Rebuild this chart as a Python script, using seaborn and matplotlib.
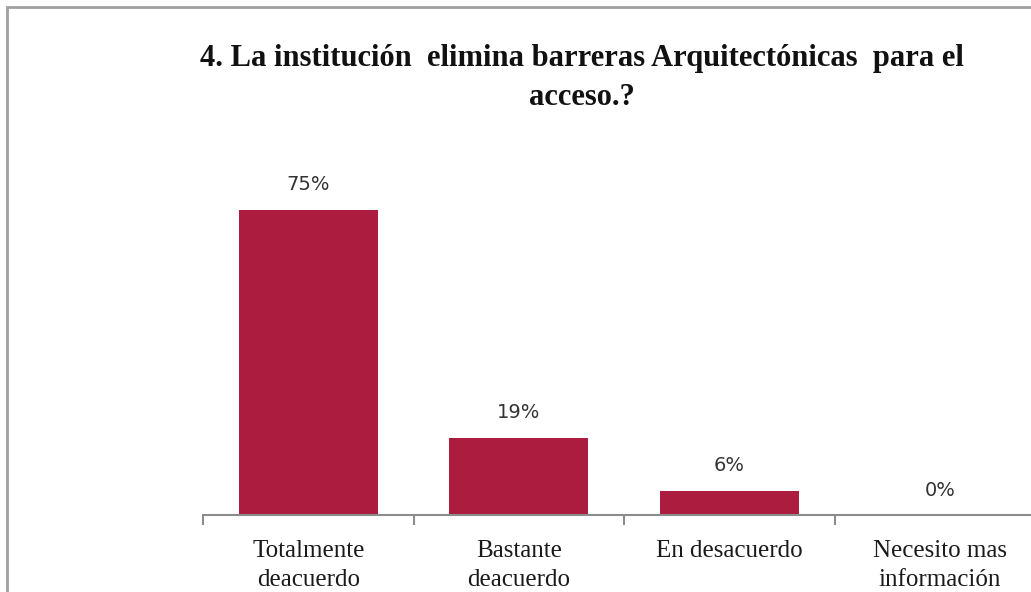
import matplotlib
matplotlib.use("Agg")
import matplotlib.pyplot as plt
import matplotlib.patches as mpatches
import pandas as pd
import seaborn as sns

# datos
categorias = ["Totalmente\ndeacuerdo", "Bastante\ndeacuerdo", "En desacuerdo", "Necesito mas\ninformación"]
porcentajes = [75, 19, 6, 0]
etiquetas = ["75%", "19%", "6%", "0%"]
titulo = "4. La institución  elimina barreras Arquitectónicas  para el\nacceso.?"

df = pd.DataFrame({"cat": categorias, "pct": porcentajes})

sns.set_style("white")
plt.rcParams["font.family"] = ["Liberation Serif", "DejaVu Serif"]

fig = plt.figure(figsize=(10.31, 5.92), dpi=100)
ax = fig.add_axes([203 / 1031, 77 / 592, 842 / 1031, 366 / 592])

sns.barplot(data=df, x="cat", y="pct", color="#AC1C3F", width=0.66,
            saturation=1, ax=ax, linewidth=0)

ax.set_ylim(0, 90)
ax.set_xlim(-0.5, 3.5)
ax.set_xlabel("")
ax.set_ylabel("")
ax.set_yticks([])
for s in ["top", "right", "left"]:
    ax.spines[s].set_visible(False)
ax.spines["bottom"].set_color("#8c8c8c")
ax.spines["bottom"].set_linewidth(1.5)

# marcas entre categorias
ax.set_xticks([-0.5, 0.5, 1.5, 2.5, 3.5], minor=True)
ax.tick_params(axis="x", which="minor", bottom=True, length=7, width=1.5,
               color="#8c8c8c", direction="out")
ax.tick_params(axis="x", which="major", bottom=False, length=0, pad=18,
               labelsize=18, labelcolor="#1a1a1a")
for lbl in ax.get_xticklabels():
    lbl.set_linespacing(1.4)

for i, (v, t) in enumerate(zip(porcentajes, etiquetas)):
    ax.annotate(t, (i, v), xytext=(0, 18), textcoords="offset points",
                ha="center", va="center", fontsize=14, color="#333333",
                family="DejaVu Sans")

fig.text(582 / 1031, 1 - 78 / 592, titulo, ha="center", va="center",
         fontsize=22, fontweight="bold", linespacing=1.45, color="#111111")

# borde del grafico
borde = mpatches.Rectangle((7 / 1031, -0.2), 1.2, 1.2 - 7 / 592,
                           transform=fig.transFigure, fill=False,
                           edgecolor="#a0a0a0", linewidth=2)
fig.patches.append(borde)

fig.savefig("out.png", dpi=100)
